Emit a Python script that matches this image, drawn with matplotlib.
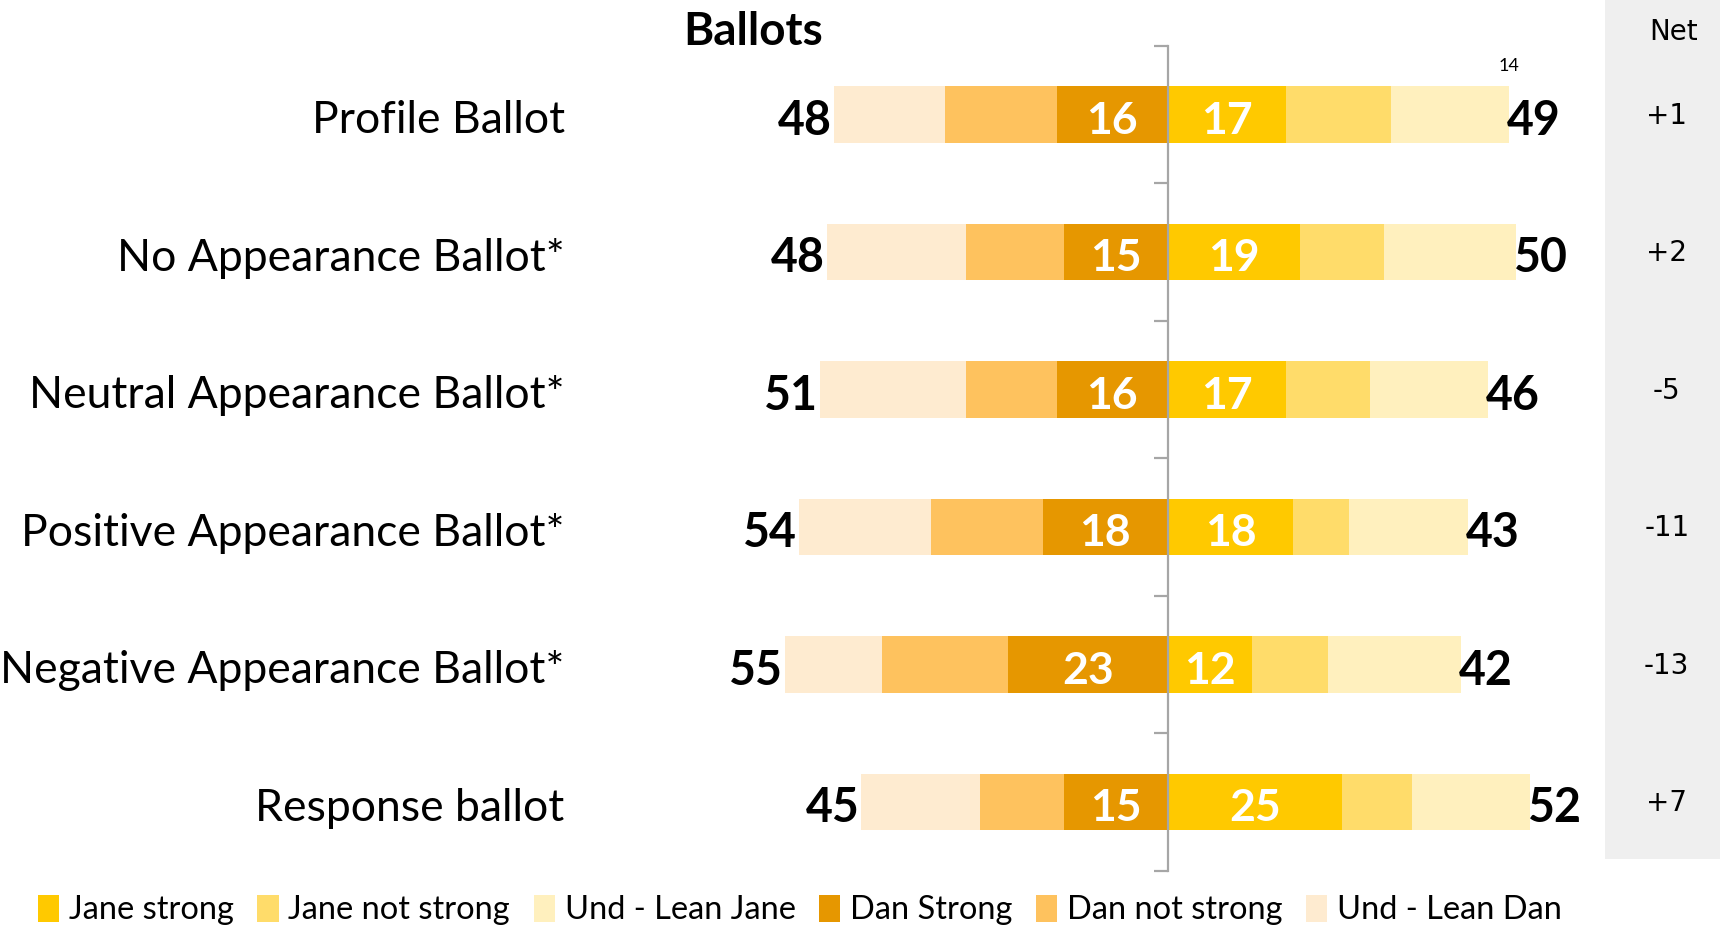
import numpy as np
import matplotlib.pyplot as plt
from matplotlib.patches import Patch, Rectangle

categories = [
    "Profile Ballot",
    "No Appearance Ballot*",
    "Neutral Appearance Ballot*",
    "Positive Appearance Ballot*",
    "Negative Appearance Ballot*",
    "Response ballot",
]

# left side (Dan), from the axis outwards
dan_strong = [16, 15, 16, 18, 23, 15]
dan_not_strong = [16, 14, 13, 16, 18, 12]
dan_lean = [16, 20, 21, 19, 14, 17]
# right side (Jane), from the axis outwards
jane_strong = [17, 19, 17, 18, 12, 25]
jane_not_strong = [15, 12, 12, 8, 11, 10]
jane_lean = [17, 19, 17, 17, 19, 17]

dan_total = [48, 48, 51, 54, 55, 45]
jane_total = [49, 50, 46, 43, 42, 52]
net = ["+1", "+2", "-5", "-11", "-13", "+7"]

colors = {
    "Jane strong": "#FFC900",
    "Jane not strong": "#FFDC6A",
    "Und - Lean Jane": "#FFF0BE",
    "Dan Strong": "#E69700",
    "Dan not strong": "#FEC25E",
    "Und - Lean Dan": "#FEEBD0",
}

FONT = "Lato"

# figure pixel geometry -> data units
W, H = 1720, 926
CX = 1168.0      # x pixel of the zero axis
PPU = 6.966      # pixels per percentage point
ROW0 = 114.6     # y pixel of first row centre
ROWH = 137.5     # pixels between rows

fig = plt.figure(figsize=(W / 100, H / 100), dpi=100)
ax = fig.add_axes([0, 0, 1, 1])
ax.set_xlim(-CX / PPU, (W - CX) / PPU)
ax.set_ylim((H - ROW0) / ROWH, -ROW0 / ROWH)
ax.axis("off")

y = np.arange(len(categories))
bh = 0.41

ds = np.array(dan_strong)
dn = np.array(dan_not_strong)
dl = np.array(dan_lean)
js = np.array(jane_strong)
jn = np.array(jane_not_strong)
jl = np.array(jane_lean)

ax.barh(y, -ds, height=bh, color=colors["Dan Strong"], lw=0)
ax.barh(y, -dn, left=-ds, height=bh, color=colors["Dan not strong"], lw=0)
ax.barh(y, -dl, left=-(ds + dn), height=bh, color=colors["Und - Lean Dan"], lw=0)
ax.barh(y, js, height=bh, color=colors["Jane strong"], lw=0)
ax.barh(y, jn, left=js, height=bh, color=colors["Jane not strong"], lw=0)
ax.barh(y, jl, left=js + jn, height=bh, color=colors["Und - Lean Jane"], lw=0)

# centre axis with category ticks
ax.plot([0, 0], [-0.5, len(categories) - 0.5], color="#A6A6A6", lw=1.6, zorder=3)
ax.hlines(np.arange(-0.5, len(categories)), -2, 0, color="#A6A6A6", lw=1.6, zorder=3)

left_end = ds + dn + dl
right_end = js + jn + jl
for i in range(len(categories)):
    ax.text(-86.6, i + 0.045, categories[i], ha="right", va="center",
            fontsize=32, family=FONT)
    ax.text(-ds[i] / 2, i + 0.045, str(ds[i]), ha="center", va="center",
            fontsize=32, color="white", fontweight="bold", family=FONT)
    ax.text(js[i] / 2, i + 0.045, str(js[i]), ha="center", va="center",
            fontsize=32, color="white", fontweight="bold", family=FONT)
    ax.text(-left_end[i] - 0.3, i + 0.045, str(dan_total[i]), ha="right", va="center",
            fontsize=33.5, fontweight="bold", family=FONT)
    ax.text(right_end[i] - 0.3, i + 0.045, str(jane_total[i]), ha="left", va="center",
            fontsize=33.5, fontweight="bold", family=FONT)

# Net column
ax.add_patch(Rectangle((62.7, -2), 30, (859 - ROW0) / ROWH + 2,
                       facecolor="#EFEFEF", edgecolor="none", zorder=0))
ax.text(72.6, -0.6, "Net", ha="center", va="center", fontsize=20,
        family="DejaVu Sans")
for i in range(len(categories)):
    ax.text(71.6, i + 0.01, net[i], ha="center", va="center", fontsize=20,
            family="DejaVu Sans")

ax.text(-59.5, -0.6, "Ballots", ha="center", va="center", fontsize=33,
        fontweight="bold", family=FONT)
ax.text(right_end[0], -0.355, "14", ha="center", va="center", fontsize=13,
        family=FONT)

handles = [Patch(facecolor=c, edgecolor="none", label=k) for k, c in colors.items()]
fig.legend(handles=handles, loc="center left", bbox_to_anchor=(0.022, 1 - 910 / H),
           ncol=6, frameon=False, prop={"family": FONT, "size": 23.5},
           handlelength=0.65, handleheight=0.9, handletextpad=0.3,
           columnspacing=0.72, borderpad=0, borderaxespad=0)

fig.savefig("out.png", dpi=100)
